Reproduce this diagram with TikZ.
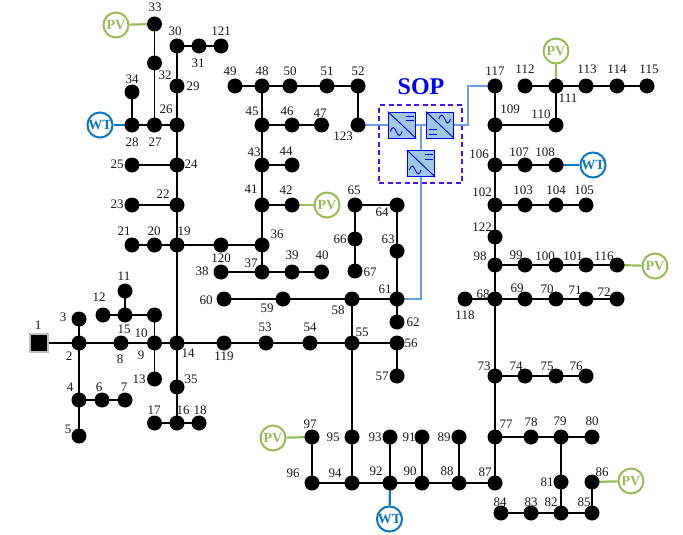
\documentclass[tikz,border=0pt]{standalone}
\usepackage{fontspec}
\setmainfont{Liberation Serif}
\definecolor{pvc}{HTML}{9BBB59}
\definecolor{wtc}{HTML}{0C78C4}
\definecolor{sopl}{HTML}{6A9FE6}
\definecolor{conv}{HTML}{9DC8E8}
\definecolor{dashc}{HTML}{4A12EE}
\tikzset{
 bus/.style={circle,fill=black,draw=none,minimum size=15pt,inner sep=0pt},
 rootbus/.style={rectangle,fill=black,draw=black!25,line width=1.2pt,minimum size=18pt,inner sep=0pt},
 lab/.style={font=\fontsize{13}{13}\selectfont,inner sep=0pt,text=black!90},
 wire/.style={line width=1.6pt,black},
 pvnode/.style={circle,draw=pvc,line width=2pt,fill=white,minimum size=25pt,inner sep=0pt,text=pvc,font=\fontsize{14}{14}\selectfont\bfseries},
 wtnode/.style={circle,draw=wtc,line width=2pt,fill=white,minimum size=25pt,inner sep=0pt,text=wtc,font=\fontsize{14}{14}\selectfont\bfseries},
 pvwire/.style={line width=2.2pt,pvc},
 wtwire/.style={line width=2.2pt,wtc},
 sopwire/.style={line width=1.6pt,sopl},
 convbox/.style={rectangle,draw=blue!90!black,fill=conv,line width=1pt,minimum width=27.5pt,minimum height=26pt,inner sep=0pt},
 glyph/.style={line width=.9pt,blue!90!black}
}
\begin{document}
\begin{tikzpicture}[x=1pt,y=-1pt]
\useasboundingbox (0,0) rectangle (683,535);
\foreach \n/\x/\y in {
 2/79/343,3/79/319,4/79/400,5/79/436,6/102/400,7/125/400,8/121/343,10/154.5/343,11/125/291,12/103/315,13/154.5/379,
 14/177/343,15/125/315,x/154.5/315,16/177/423,17/154.5/423,18/199/423,19/177/245,20/154.5/245,21/132/245,22/177/205,23/132/205,
 24/177/165,25/132/165,26/177/125,27/154.5/125,28/132/125,29/177/86,30/177/46,31/199/46,32/154.5/63,33/154.5/24,34/132/92,
 35/177/387,36/262/245,37/262/272,38/221/272,39/292/272,40/321.5/272,41/262/205,42/292/205,43/262/165,44/292/165,45/262/125,
 46/292/125,47/321.5/125,48/262/86,49/235/86,50/290/86,51/327/86,52/358/86,53/266/343,54/310/343,55/352/343,56/397/343,57/397/376,
 58/352/299,59/283/299,60/224/299,61/397/299,62/397/322,63/397/251,64/397/205,65/355/205,66/355/239,67/355/271,68/495/299,
 69/525/299,70/556/299,71/586/299,72/617/299,73/495/376,74/525/376,75/556/376,76/586/376,77/495/437,78/531/437,79/561/437,80/592/437,
 81/561/482,82/561/513,83/531/513,84/501/513,85/592/513,86/592/482,87/495/483,88/459/483,89/459/437,90/422/483,91/422/437,92/390/483,93/390/437,
 94/352/483,95/352/437,96/312/483,97/312/437,98/495/265,99/525/265,100/556/265,101/586/265,102/495/205,103/525/205,104/556/205,105/586/205,
 106/495/165,107/525/165,108/556/165,109/495/125,110/556/125,111/556/86,112/525/86,113/586/86,114/617/86,115/647/86,116/617/265,117/495/86,
 118/465/299,119/224/343,120/221/245,121/221/46,122/495/237,123/358/125}
 {\coordinate (c\n) at (\x,\y);}
\coordinate (c1) at (39,343);
% connectors
\foreach \p/\q in {1/2,2/3,2/8,8/10,10/14,14/119,119/53,53/54,54/55,55/56,56/57,55/58,58/61,58/59,59/60,61/62,61/63,63/64,64/65,65/66,66/67,
 55/95,95/94,94/92,94/96,96/97,92/93,92/90,90/91,90/88,88/89,88/87,87/77,77/73,73/68,68/98,98/122,122/102,102/106,106/109,109/117,109/110,
 110/111,111/112,111/113,113/114,114/115,68/118,68/69,69/70,70/71,71/72,73/74,74/75,75/76,77/78,78/79,79/80,79/81,81/82,82/83,83/84,82/85,85/86,
 98/99,99/100,100/101,101/116,102/103,103/104,104/105,106/107,107/108,2/4,4/6,6/7,4/5,10/x,x/15,15/11,15/12,10/13,14/19,14/35,35/16,16/17,16/18,
 19/20,20/21,19/22,22/23,22/24,24/25,24/26,26/27,27/28,28/34,27/32,32/33,26/29,29/30,30/31,31/121,19/120,120/36,36/37,37/38,37/39,39/40,36/41,41/42,
 41/43,43/44,43/45,45/46,46/47,45/48,48/49,48/50,50/51,51/52,52/123}
 {\draw[wire] (c\p) -- (c\q);}
% converters and dashed box
\node[draw=dashc,line width=1.5pt,dash pattern=on 5pt off 3.5pt,minimum width=83pt,minimum height=78pt,inner sep=0pt] (sopbox) at (420.5,144) {};
\coordinate (jt) at (421,125);
\coordinate (jb) at (421,299);
\coordinate (jr) at (468,125);
\coordinate (ju) at (468,86);
\coordinate (ma) at (402,125);
\coordinate (mb) at (440,125);
\coordinate (mc) at (421,163);
\draw[sopwire] (c123) -- (ma);
\draw[sopwire] (ma) -- (mb);
\draw[sopwire] (jt) -- (mc);
\draw[sopwire] (mc) -- (jb) -- (c61);
\draw[sopwire] (mb) -- (jr) -- (ju) -- (c117);
\node[convbox] (convA) at (ma) {};
\node[convbox] (convB) at (mb) {};
\node[convbox] (convC) at (421,163.5) {};
\foreach \c in {convA,convC}{
 \draw[glyph] (\c.north west) -- (\c.south east);
 \draw[glyph] ([xshift=18pt,yshift=-4.5pt]\c.north west) -- ++(8pt,0);
 \draw[glyph] ([xshift=18pt,yshift=-9pt]\c.north west) -- ++(8pt,0);
 \draw[glyph] ([xshift=2.5pt,yshift=7pt]\c.south west) sin ++(3pt,4pt) cos ++(3pt,-4pt) sin ++(3pt,-4pt) cos ++(3pt,4pt);
}
\draw[glyph] (convB.north west) -- (convB.south east);
\draw[glyph] ([xshift=3.5pt,yshift=4.5pt]convB.south west) -- ++(8pt,0);
\draw[glyph] ([xshift=3.5pt,yshift=9pt]convB.south west) -- ++(8pt,0);
\draw[glyph] ([xshift=13pt,yshift=-7.5pt]convB.north west) sin ++(3pt,4pt) cos ++(3pt,-4pt) sin ++(3pt,-4pt) cos ++(3pt,4pt);
% generators
\foreach \nm/\x/\y/\c in {pa/116/25/c33,pb/327/205/c42,pc/556/51/c111,pd/655/266/c116,pe/273/438/c97,pf/631/481/c86}{
 \node[pvnode] (\nm) at (\x,\y) {PV};
 \draw[pvwire] (\nm) -- (\c);
}
\foreach \nm/\x/\y/\c in {wa/100/125/c28,wb/593/165/c108,wc/389.5/519/c92}{
 \node[wtnode] (\nm) at (\x,\y) {WT};
 \draw[wtwire] (\nm) -- (\c);
}
% buses
\node[rootbus] (n1) at (c1) {};
\foreach \n in {2,3,4,5,6,7,8,10,11,12,13,14,15,x,16,17,18,19,20,21,22,23,24,25,26,27,28,29,30,31,32,33,34,35,36,37,38,39,40,41,42,43,44,45,46,47,48,49,50,51,52,53,54,55,56,57,58,59,60,61,62,63,64,65,66,67,68,69,70,71,72,73,74,75,76,77,78,79,80,81,82,83,84,85,86,87,88,89,90,91,92,93,94,95,96,97,98,99,100,101,102,103,104,105,106,107,108,109,110,111,112,113,114,115,116,117,118,119,120,121,122,123}
 {\node[bus] (n\n) at (c\n) {};}
% labels
\foreach \t/\x/\y in {
 1/38/325,2/69/356,3/63/317,4/70/387,5/68/429,6/99/387,7/124/387,8/120/359,9/141/355,10/141/333,11/124/276,12/99/297,13/139/379,14/188/353,15/124/329,
 16/183/410,17/154/410,18/200/410,19/184/231,20/154/231,21/124/231,22/163/194,23/117/204,24/191/164,25/117/164,26/166/109,27/155/142,28/132/142,29/193/86,
 30/175/31,31/198/63,32/165/75,33/155/7,34/132/79,35/191/379,36/277/234,37/251/263,38/202/271,39/292/255,40/322/255,41/251/189,42/286/190,43/254/152,44/286/151,
 45/252/111,46/287/111,47/320/113,48/262/71,49/230/71,50/290/71,51/327/71,52/358/71,53/265/327,54/310/327,55/362/332,56/411/343,57/382/376,58/338/310,59/267/308,
 60/206/300,61/385/289,62/413/322,63/388/239,64/382/212,65/354/190,66/340/239,67/370/272,68/483/294,69/517/288,70/547/289,71/575/290,72/604/292,73/484/366,74/516/366,
 75/547/366,76/576/366,77/506/424,78/531/422,79/560/421,80/592/421,81/547/482,82/551/502,83/531/502,84/500/502,85/584/502,86/602/472,87/485/472,88/447/471,89/444/437,
 90/410/471,91/409/437,92/376/471,93/375/437,94/335/473,95/333/437,96/293/473,97/310/424,98/480/256,99/516/255,100/545/256,101/573/256,102/482/192,103/523/190,104/556/190,
 105/584/190,106/479/154,107/519/152,108/545/152,109/510/109,110/541/114,111/568/98,112/525/69,113/587/69,114/617/69,115/649/69,116/604/256,117/495/71,118/465/315,
 119/224/356,120/221/258,121/221/31,122/482/227,123/343/136}
 {\node[lab] (l\t) at (\x,\y) {\t};}
\node[font=\fontsize{24}{24}\selectfont\bfseries,text=blue,inner sep=0pt] (soplabel) at (421,87) {SOP};
\end{tikzpicture}
\end{document}
